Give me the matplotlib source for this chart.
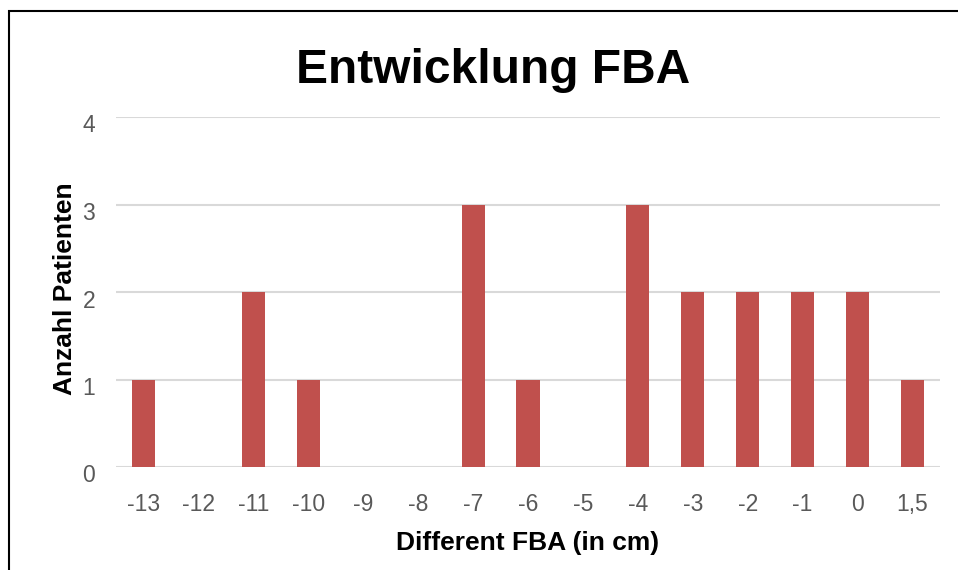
import matplotlib
matplotlib.use("Agg")
import matplotlib.pyplot as plt
import matplotlib.transforms as mtransforms
from matplotlib.patches import Rectangle

categories = ["-13", "-12", "-11", "-10", "-9", "-8", "-7", "-6", "-5", "-4", "-3", "-2", "-1", "0", "1,5"]
counts = [1, 0, 2, 1, 0, 0, 3, 1, 0, 3, 2, 2, 2, 2, 1]

plt.rcParams['font.family'] = ['Liberation Sans', 'DejaVu Sans']

W, H = 958, 570
fig = plt.figure(figsize=(W / 100, H / 100), dpi=100)

# outer frame (partially cropped)
fig.patches.append(Rectangle((9 / W, -0.1), 1.2, 1 - 11 / H + 0.1, transform=fig.transFigure,
                             fill=False, edgecolor='black', linewidth=1.5))

left, right = 116 / W, 940 / W
bottom, top = 1 - 467 / H, 1 - 117 / H
ax = fig.add_axes([left, bottom, right - left, top - bottom])

x = range(len(categories))
ax.bar(x, counts, width=0.42, color='#c0504d', zorder=3)
ax.set_xlim(-0.5, len(categories) - 0.5)
ax.set_ylim(0, 4)
ax.set_yticks([0, 1, 2, 3, 4])
ax.set_xticks(list(x))
ax.set_xticklabels(categories)
ax.yaxis.grid(True, color='#d9d9d9', linewidth=1.5, zorder=0)
for s in ax.spines.values():
    s.set_visible(False)
ax.tick_params(axis='both', length=0, labelsize=16.5, labelcolor='#595959')
ax.tick_params(axis='x', pad=19)
ax.tick_params(axis='y', pad=15)

offset = mtransforms.ScaledTranslation(0, -6.5 / 100, fig.dpi_scale_trans)
for lbl in ax.get_yticklabels():
    lbl.set_transform(lbl.get_transform() + offset)

fig.text(528 / W, 1 - 543 / H, "Different FBA (in cm)", fontsize=19, fontweight='bold',
         ha='center', va='center')
fig.text(65 / W, 1 - 289 / H, "Anzahl Patienten", fontsize=19, fontweight='bold',
         ha='center', va='center', rotation=90)
fig.text(493 / W, 1 - 71 / H, "Entwicklung FBA", fontsize=34.5, fontweight='bold',
         ha='center', va='center')

fig.savefig("out.png", dpi=100)
